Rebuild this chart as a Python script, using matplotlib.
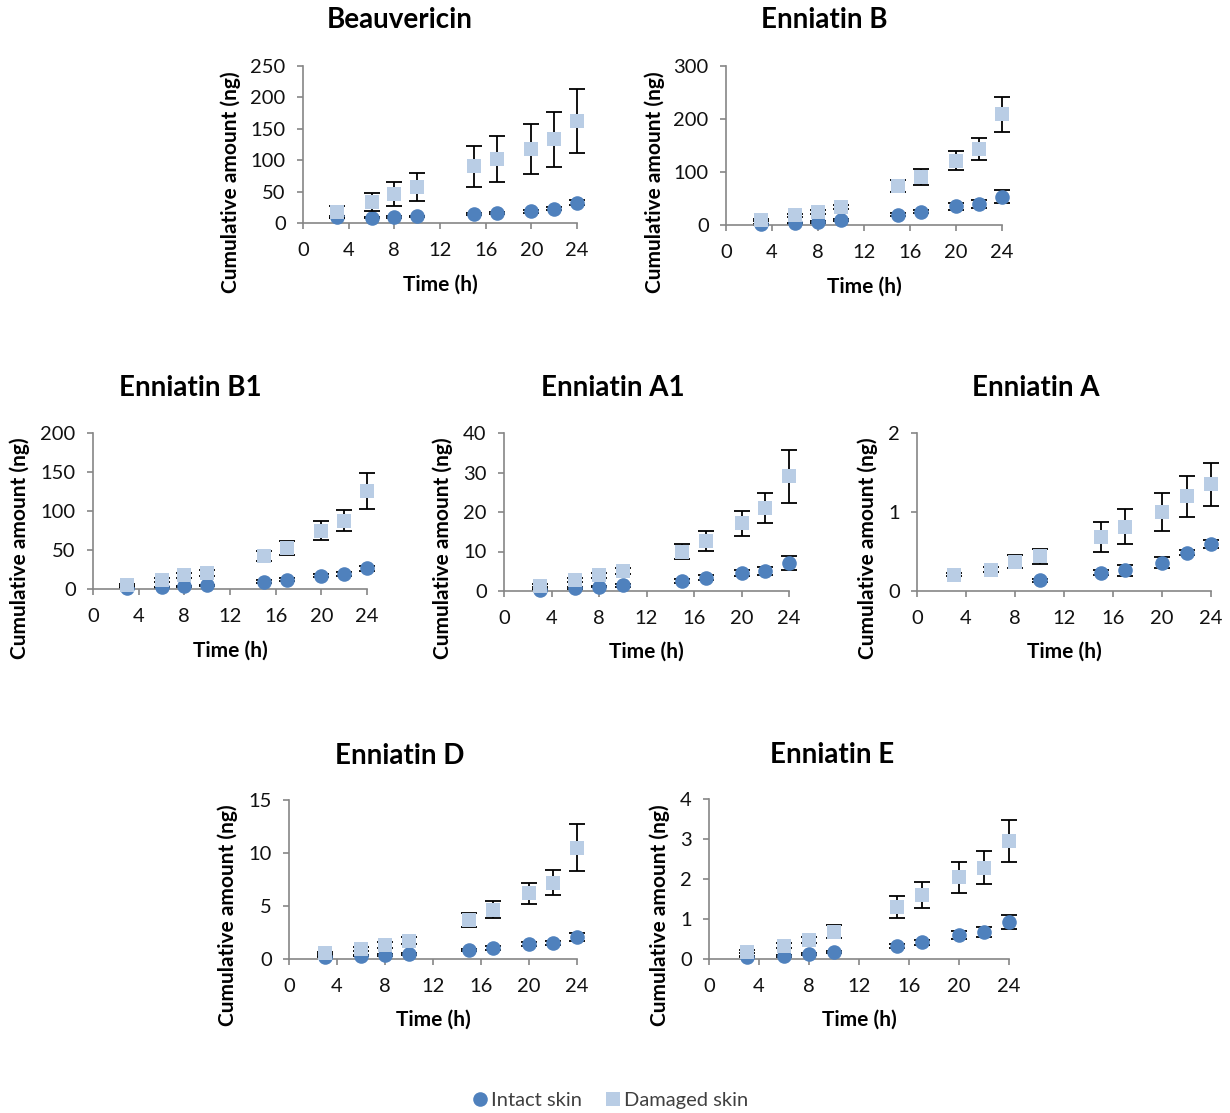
import numpy as np
import matplotlib
matplotlib.use("Agg")
import matplotlib.pyplot as plt
from matplotlib.lines import Line2D

plt.rcParams['font.family'] = ['Lato', 'DejaVu Sans']

W, H = 1230, 1113

hours = [3, 6, 8, 10, 15, 17, 20, 22, 24]
x_ticks = [0, 4, 8, 12, 16, 20, 24]

titles = ["Beauvericin", "Enniatin B", "Enniatin B1", "Enniatin A1",
          "Enniatin A", "Enniatin D", "Enniatin E"]

# Cumulative amounts (ng), mean and SD, intact vs damaged skin
bea_intact = [9.6, 8.5, 9.6, 10.6, 13.8, 16, 18.5, 23, 32]
bea_intact_sd = [1, 1, 1, 1, 1.5, 2, 2, 2.5, 4]
bea_damaged = [17.5, 33.5, 46, 57.5, 90, 101.6, 117.5, 133, 162]
bea_damaged_sd = [10, 15, 18.5, 22, 33, 37, 40, 44, 51]

enb_intact = [1, 3, 5.7, 9.4, 19.5, 25, 35, 40, 53.5]
enb_intact_sd = [0.5, 1, 1, 1.5, 3, 3, 6, 7, 12]
enb_damaged = [9.4, 18, 24, 34.6, 73.6, 91, 121, 143, 209]
enb_damaged_sd = [2, 3, 4, 4, 12, 15, 18, 21, 33]

enb1_intact = [1.3, 2, 3.4, 4.7, 9.4, 12, 17, 19, 26.4]
enb1_intact_sd = [0.5, 0.5, 0.8, 1, 1.5, 2, 2, 2.5, 3.5]
enb1_damaged = [5.5, 12, 17.4, 20.4, 42.5, 52, 75, 87.7, 125.5]
enb1_damaged_sd = [1.5, 2.5, 3, 3.5, 6, 9, 11.7, 13, 23]

ena1_intact = [0.3, 0.7, 1.1, 1.4, 2.6, 3.4, 4.5, 5.05, 7.0]
ena1_intact_sd = [0.1, 0.2, 0.2, 0.3, 0.5, 0.6, 0.7, 1.0, 1.8]
ena1_damaged = [1.35, 2.8, 4.0, 5.1, 9.9, 12.6, 17.1, 20.9, 29.1]
ena1_damaged_sd = [0.3, 0.5, 0.6, 0.8, 1.9, 2.5, 3.2, 3.8, 6.7]

ena_intact = [np.nan, np.nan, np.nan, 0.134, 0.23, 0.265, 0.36, 0.487, 0.6]
ena_intact_sd = [np.nan, np.nan, np.nan, 0.02, 0.03, 0.07, 0.075, 0.03, 0.05]
ena_damaged = [0.206, 0.27, 0.37, 0.437, 0.68, 0.815, 1.0, 1.2, 1.35]
ena_damaged_sd = [0.02, 0.03, 0.08, 0.097, 0.19, 0.22, 0.24, 0.26, 0.275]

end_intact = [0.2, 0.3, 0.4, 0.47, 0.82, 1.04, 1.4, 1.5, 2.1]
end_intact_sd = [0.05, 0.05, 0.08, 0.1, 0.1, 0.15, 0.2, 0.2, 0.4]
end_damaged = [0.53, 0.97, 1.32, 1.73, 3.68, 4.65, 6.2, 7.2, 10.5]
end_damaged_sd = [0.1, 0.2, 0.25, 0.3, 0.63, 0.82, 1.0, 1.2, 2.2]

ene_intact = [0.06, 0.08, 0.12, 0.17, 0.32, 0.42, 0.6, 0.67, 0.93]
ene_intact_sd = [0.02, 0.02, 0.03, 0.03, 0.05, 0.06, 0.1, 0.12, 0.18]
ene_damaged = [0.18, 0.33, 0.48, 0.68, 1.3, 1.6, 2.04, 2.28, 2.95]
ene_damaged_sd = [0.04, 0.06, 0.08, 0.16, 0.28, 0.33, 0.39, 0.41, 0.53]

y_ticks = [
    [0, 50, 100, 150, 200, 250],
    [0, 100, 200, 300],
    [0, 50, 100, 150, 200],
    [0, 10, 20, 30, 40],
    [0, 1, 2],
    [0, 5, 10, 15],
    [0, 1, 2, 3, 4],
]

series = [
    (bea_intact, bea_intact_sd, bea_damaged, bea_damaged_sd),
    (enb_intact, enb_intact_sd, enb_damaged, enb_damaged_sd),
    (enb1_intact, enb1_intact_sd, enb1_damaged, enb1_damaged_sd),
    (ena1_intact, ena1_intact_sd, ena1_damaged, ena1_damaged_sd),
    (ena_intact, ena_intact_sd, ena_damaged, ena_damaged_sd),
    (end_intact, end_intact_sd, end_damaged, end_damaged_sd),
    (ene_intact, ene_intact_sd, ene_damaged, ene_damaged_sd),
]

# panel frames in pixels: x0, x1, y_top, y_bottom
frames = [
    (303, 577, 66, 223),
    (726, 1002, 66, 225),
    (93, 367, 433, 589),
    (504, 789, 433, 591),
    (917, 1211, 433, 591),
    (289, 577, 800, 959),
    (709, 1009, 799, 959),
]
# title centre, y-label position, x-label y (pixels)
title_pos = [(400, 20), (824, 20), (190, 388), (613, 388), (1036, 388), (400, 756), (832, 755)]
ylabel_pos = [(231, 182), (655, 182), (20, 548), (443, 548), (868, 548), (228, 915), (660, 915)]
xlabel_y = [285, 287, 651, 652, 652, 1020, 1020]

C_INTACT = "#4F81BD"
C_DAMAGED = "#B9CDE5"
SPINE = "#868686"
TXT = "#111111"
MS = 10.5

fig = plt.figure(figsize=(W / 100, H / 100), dpi=100)

for i, (x0, x1, yt, yb) in enumerate(frames):
    ax = fig.add_axes([x0 / W, 1 - yb / H, (x1 - x0) / W, (yb - yt) / H])
    it, it_sd, dm, dm_sd = series[i]
    ax.errorbar(hours, it, yerr=it_sd, fmt='none', ecolor='black',
                elinewidth=1.3, capsize=5.5, capthick=1.3, zorder=2)
    ax.plot(hours, it, 'o', color=C_INTACT, markersize=MS, zorder=3,
            markeredgewidth=0)
    ax.errorbar(hours, dm, yerr=dm_sd, fmt='none', ecolor='black',
                elinewidth=1.3, capsize=5.5, capthick=1.3, zorder=4)
    ax.plot(hours, dm, 's', color=C_DAMAGED, markersize=MS - 0.5, zorder=5,
            markeredgewidth=0)
    ax.set_xlim(0, 24)
    ax.set_ylim(0, y_ticks[i][-1])
    ax.set_xticks(x_ticks)
    ax.set_yticks(y_ticks[i])
    for s in ("top", "right"):
        ax.spines[s].set_visible(False)
    for s in ("left", "bottom"):
        ax.spines[s].set_color(SPINE)
        ax.spines[s].set_linewidth(1.2)
    ax.tick_params(direction='out', length=4.5, width=1.2, color=SPINE,
                   labelsize=14.5, labelcolor=TXT)
    ax.tick_params(axis='x', pad=9)
    ax.tick_params(axis='y', pad=8)
    ax.patch.set_alpha(0)
    for art in ax.lines + list(ax.collections):
        art.set_clip_on(False)

    tx, ty = title_pos[i]
    fig.text(tx / W, 1 - ty / H, titles[i], ha='center', va='center',
             fontsize=20, fontweight='bold', color='black')
    lx, ly = ylabel_pos[i]
    fig.text(lx / W, 1 - ly / H, "Cumulative amount (ng)", rotation=90,
             ha='center', va='center', fontsize=15, fontweight='bold',
             color='black')
    fig.text((x0 + x1) / 2 / W, 1 - xlabel_y[i] / H, "Time (h)",
             ha='center', va='center', fontsize=15, fontweight='bold',
             color='black')

handles = [
    Line2D([], [], marker='o', linestyle='none', color=C_INTACT,
           markersize=MS, markeredgewidth=0, label="Intact skin"),
    Line2D([], [], marker='s', linestyle='none', color=C_DAMAGED,
           markersize=MS, markeredgewidth=0, label="Damaged skin"),
]
fig.legend(handles=handles, loc='center', bbox_to_anchor=(609 / W, 1 - 1100 / H),
           ncol=2, frameon=False, fontsize=14.5, handletextpad=0.05,
           columnspacing=1.0, labelcolor="#404040", handlelength=1.0)

fig.savefig("out.png", dpi=100)
